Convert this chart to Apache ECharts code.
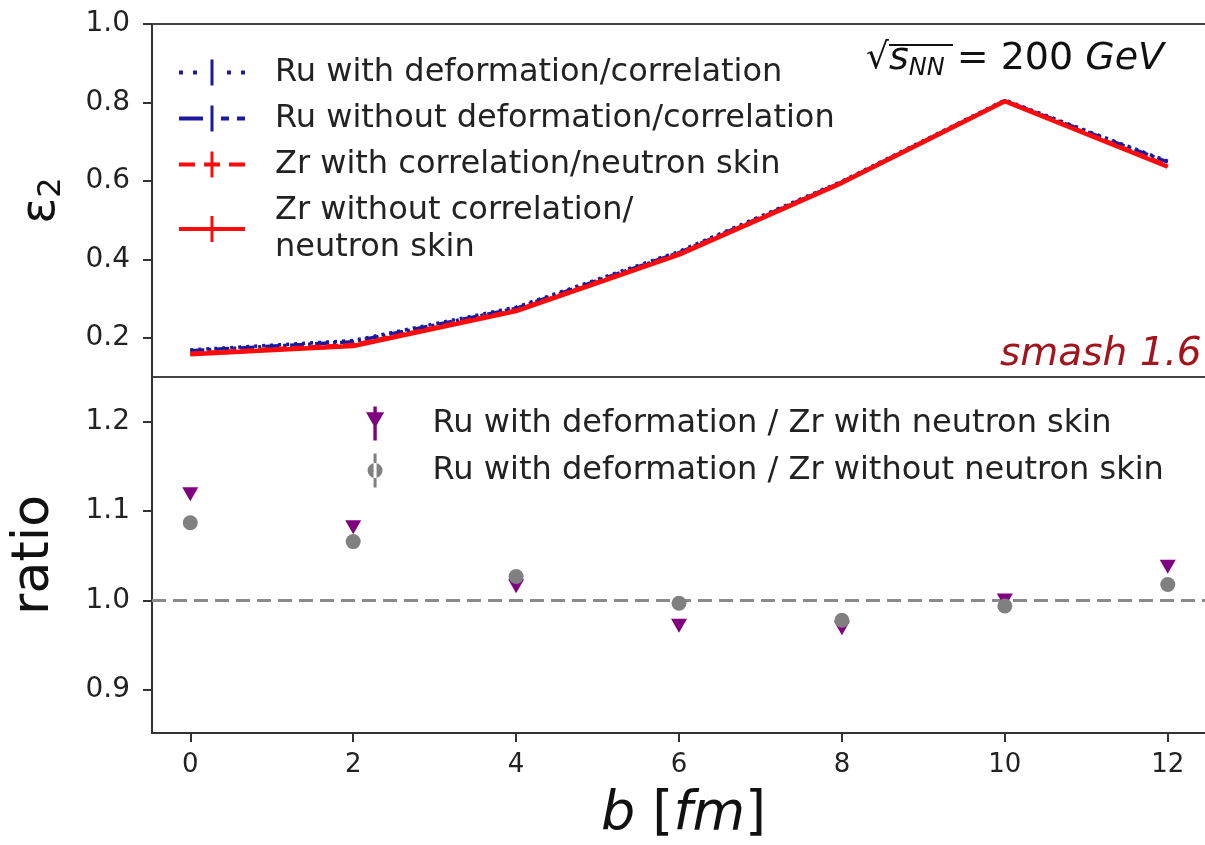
<!DOCTYPE html>
<html>
<head>
<meta charset="utf-8">
<script src="https://cdn.jsdelivr.net/npm/echarts@6/dist/echarts.min.js"></script>
<style>html,body{margin:0;padding:0;background:#fff}#c{width:1205px;height:845px}</style>
</head>
<body>
<div id="c"></div>
<script>
// ---- data ----
const bValues = [0, 2, 4, 6, 8, 10, 12];
const ruWithDef = [0.169, 0.193, 0.278, 0.420, 0.599, 0.806, 0.650];
const ruWithoutDef = [0.167, 0.190, 0.275, 0.417, 0.597, 0.804, 0.648];
const zrWithSkin = [0.160, 0.182, 0.270, 0.414, 0.596, 0.804, 0.639];
const zrWithoutSkin = [0.158, 0.179, 0.268, 0.412, 0.595, 0.803, 0.636];
const ratioWithSkin = [1.119, 1.082, 1.016, 0.972, 0.969, 1.000, 1.038];
const ratioWithoutSkin = [1.087, 1.066, 1.027, 0.997, 0.978, 0.994, 1.018];
const xTicks = [0, 2, 4, 6, 8, 10, 12];
const yTopTicks = [0.2, 0.4, 0.6, 0.8, 1.0];
const yBottomTicks = [0.9, 1.0, 1.1, 1.2];
const topNames = ['Ru with deformation/correlation', 'Ru without deformation/correlation',
  'Zr with correlation/neutron skin', 'Zr without correlation/\nneutron skin'];
const bottomNames = ['Ru with deformation / Zr with neutron skin',
  'Ru with deformation / Zr without neutron skin'];

const zip = (xs, ys) => xs.map((x, i) => [x, ys[i]]);
const FONT = 'DejaVu Sans';
const BLUE = '#1a1aa0', RED = '#ff0a0a', PURPLE = '#800080', GRAY = '#808080';
const AX = '#333';

const iconDotted = 'path://M0,11h4v4h-4z M14,11h4v4h-4z M31.5,0h3v26h-3z M48,11h4v4h-4z M62,11h4v4h-4z';
const iconDashDot = 'path://M0,11h24v4h-24z M31.5,0h3v26h-3z M42,11h8v4h-8z M58,11h8v4h-8z';
const iconDashed = 'path://M0,11h16v4h-16z M25,11h16v4h-16z M31.5,0h3v26h-3z M50,11h16v4h-16z';
const iconSolid = 'path://M0,11h66v4h-66z M31.5,0h3v26h-3z';
const iconTri = 'path://M6.5,0h3v30h-3z M0,5h16l-8,14z';
const iconCirc = 'path://M6,0h3v34h-3z M0,17a7.5,7.5 0 1,0 15,0a7.5,7.5 0 1,0 -15,0z';

const chart = echarts.init(document.getElementById('c'), null, {renderer: 'canvas'});

const yAxisCommon = (min, max, ticks) => ({
  type: 'value', min: min, max: max,
  axisLine: {show: true, onZero: false, lineStyle: {color: AX, width: 2}},
  axisTick: {show: true, inside: false, length: 9, lineStyle: {color: AX, width: 2}, customValues: ticks},
  axisLabel: {show: true, customValues: ticks, fontFamily: FONT, fontSize: 28, color: '#222', margin: 22,
    formatter: v => v.toFixed(1)},
  splitLine: {show: false}
});

const option = {
  animation: false,
  backgroundColor: '#fff',
  grid: [
    {left: 152, width: 1063, top: 24, height: 353, outerBoundsMode: 'none', containLabel: false,
      show: true, borderColor: '#444', borderWidth: 2, backgroundColor: 'transparent'},
    {left: 152, width: 1063, top: 377, height: 356, outerBoundsMode: 'none', containLabel: false,
      show: true, borderColor: '#444', borderWidth: 2, backgroundColor: 'transparent'}
  ],
  xAxis: [
    {type: 'value', gridIndex: 0, min: -0.47, max: 12.58,
      axisLine: {show: false}, axisTick: {show: false}, axisLabel: {show: false}, splitLine: {show: false}},
    {type: 'value', gridIndex: 1, min: -0.47, max: 12.58,
      axisLine: {show: true, onZero: false, lineStyle: {color: AX, width: 2}},
      axisTick: {show: true, length: 9, lineStyle: {color: AX, width: 2}, customValues: xTicks},
      axisLabel: {show: true, customValues: xTicks, fontFamily: FONT, fontSize: 26, color: '#222', margin: 19},
      splitLine: {show: false},
      name: '{i|b} [{i|fm}]', nameLocation: 'middle', nameGap: 55,
      nameTextStyle: {fontFamily: FONT, fontSize: 54, color: '#111',
        rich: {i: {fontFamily: FONT, fontSize: 54, fontStyle: 'italic', color: '#111'}}}}
  ],
  yAxis: [
    Object.assign(yAxisCommon(0.1, 1.0, yTopTicks), {gridIndex: 0,
      name: '{e|ε}{s|2}', nameLocation: 'middle', nameGap: 84,
      nameTextStyle: {fontFamily: FONT, color: '#111',
        rich: {e: {fontFamily: FONT, fontSize: 48, lineHeight: 52, color: '#111'},
               s: {fontFamily: FONT, fontSize: 32, lineHeight: 32, verticalAlign: 'bottom', color: '#111'}}}}),
    Object.assign(yAxisCommon(0.852, 1.25, yBottomTicks), {gridIndex: 1,
      name: 'ratio', nameLocation: 'middle', nameGap: 92,
      nameTextStyle: {fontFamily: FONT, fontSize: 52, color: '#111'}})
  ],
  legend: [
    {left: 174, top: 49, orient: 'vertical', itemWidth: 116, itemHeight: 26, itemGap: 9,
      selectedMode: false, textStyle: {fontFamily: FONT, fontSize: 32, lineHeight: 37, color: '#222'},
      data: [
        {name: topNames[0], icon: iconDotted},
        {name: topNames[1], icon: iconDashDot},
        {name: topNames[2], icon: iconDashed},
        {name: topNames[3], icon: iconSolid}
      ]},
    {left: 361, top: 400, orient: 'vertical', itemWidth: 105, itemHeight: 34, itemGap: 10,
      selectedMode: false, textStyle: {fontFamily: FONT, fontSize: 32, lineHeight: 37, color: '#222'},
      data: [
        {name: bottomNames[0], icon: iconTri},
        {name: bottomNames[1], icon: iconCirc}
      ]}
  ],
  series: [
    {name: topNames[0], type: 'line', xAxisIndex: 0, yAxisIndex: 0, data: zip(bValues, ruWithDef),
      showSymbol: false, symbol: 'none', color: BLUE, lineStyle: {color: BLUE, width: 3.5, type: [3, 5]}, z: 2},
    {name: topNames[1], type: 'line', xAxisIndex: 0, yAxisIndex: 0, data: zip(bValues, ruWithoutDef),
      showSymbol: false, symbol: 'none', color: BLUE, lineStyle: {color: BLUE, width: 3.5, type: [14, 4, 3, 4]}, z: 2},
    {name: topNames[2], type: 'line', xAxisIndex: 0, yAxisIndex: 0, data: zip(bValues, zrWithSkin),
      showSymbol: false, symbol: 'none', color: RED, lineStyle: {color: RED, width: 4, type: [12, 5]}, z: 3},
    {name: topNames[3], type: 'line', xAxisIndex: 0, yAxisIndex: 0, data: zip(bValues, zrWithoutSkin),
      showSymbol: false, symbol: 'none', color: RED, lineStyle: {color: RED, width: 4.5}, z: 4},
    {name: bottomNames[0], type: 'scatter', xAxisIndex: 1, yAxisIndex: 1, data: zip(bValues, ratioWithSkin),
      symbol: 'triangle', symbolRotate: 180, symbolSize: [16, 14], color: PURPLE,
      itemStyle: {color: PURPLE, opacity: 1}, z: 3,
      markLine: {silent: true, symbol: 'none', label: {show: false}, z: 1,
        lineStyle: {color: '#8a8a8a', width: 3, type: [14, 7]}, data: [{yAxis: 1.0}]}},
    {name: bottomNames[1], type: 'scatter', xAxisIndex: 1, yAxisIndex: 1, data: zip(bValues, ratioWithoutSkin),
      symbol: 'circle', symbolSize: 15, color: GRAY, itemStyle: {color: GRAY, opacity: 1}, z: 4}
  ],
  graphic: [
    {type: 'text', left: 866, top: 40, z: 10,
      style: {text: '{r|√}{s|s}{n|NN}{e| = 200 }{g|GeV}', fill: '#111',
        rich: {
          r: {fontFamily: FONT, fontSize: 36, lineHeight: 44, fill: '#111'},
          s: {fontFamily: FONT, fontSize: 38, fontStyle: 'italic', lineHeight: 44, fill: '#111'},
          n: {fontFamily: FONT, fontSize: 24, fontStyle: 'italic', lineHeight: 24, verticalAlign: 'bottom', fill: '#111'},
          e: {fontFamily: FONT, fontSize: 38, lineHeight: 44, fill: '#111'},
          g: {fontFamily: FONT, fontSize: 38, fontStyle: 'italic', lineHeight: 44, fill: '#111'}
        }}},
    {type: 'line', z: 10, shape: {x1: 889, y1: 45, x2: 953, y2: 45}, style: {stroke: '#111', lineWidth: 2}},
    {type: 'text', left: 1000, top: 335, z: 10,
      style: {text: 'smash 1.6', fontFamily: FONT, fontSize: 39, fontStyle: 'italic', fill: '#a3141c'}}
  ]
};
chart.setOption(option);
</script>
</body>
</html>
